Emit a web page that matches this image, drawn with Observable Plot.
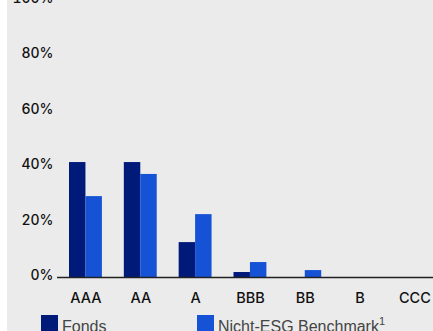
<!DOCTYPE html>
<html>
<head>
<meta charset="utf-8">
<script src="https://cdn.jsdelivr.net/npm/d3@7"></script>
<script src="https://cdn.jsdelivr.net/npm/@observablehq/plot@0.6"></script>
<style>
  html, body { margin: 0; padding: 0; background: #fff; overflow: hidden; }
  #wrap { position: absolute; left: 7px; top: 0; width: 426px; height: 331px; background: #ebebeb; overflow: hidden; }
  #chart svg { display: block; overflow: visible; }
  #legend { position: absolute; left: 0; top: 315px; width: 426px; height: 20px; font-family: "Liberation Sans", Arial, sans-serif; font-size: 16px; color: #444; }
  .item { position: absolute; top: 0; display: flex; align-items: flex-start; }
  .sw { width: 17px; height: 17px; margin-right: 4px; }
  .lbl { line-height: 17px; margin-top: 3px; white-space: nowrap; }
  sup { font-size: 11px; vertical-align: 7px; line-height: 0; }
</style>
</head>
<body>
<div id="wrap">
  <div id="chart"></div>
  <div id="legend"></div>
</div>
<script>
const categories = ["AAA", "AA", "A", "BBB", "BB", "B", "CCC"];
const fonds = [41.5, 41.5, 12.6, 1.8, 0, 0, 0];
const benchmark = [29.2, 37.2, 22.7, 5.4, 2.5, 0, 0];
const yTicks = [0, 20, 40, 60, 80, 100];
const seriesNames = ["Fonds", "Nicht-ESG Benchmark"];
const colors = ["#001a7a", "#1652d5"];

const fondsData = categories.map((c, i) => ({category: c, value: fonds[i]}));
const benchData = categories.map((c, i) => ({category: c, value: benchmark[i]}));

const W = 426, H = 312, mL = 50, mR = 0, mT = 0, mB = 35;
const pInner = 0.4, pOuter = 0.1287;
const step = (W - mL - mR) / (categories.length - pInner + 2 * pOuter);
const half = step * (1 - pInner) / 2;

const chart = Plot.plot({
  width: W,
  height: H,
  marginLeft: mL,
  marginRight: mR,
  marginTop: mT,
  marginBottom: mB,
  style: {background: "transparent", fontFamily: "Inter, sans-serif", fontSize: "14px", fontWeight: 500, color: "#111"},
  x: {domain: categories, paddingInner: pInner, paddingOuter: pOuter, align: 0.85, round: false, label: null},
  y: {domain: [0, 100], label: null},
  marks: [
    Plot.barY(fondsData, {x: "category", y: "value", fill: colors[0], insetRight: half, insetLeft: 0}),
    Plot.barY(benchData, {x: "category", y: "value", fill: colors[1], insetLeft: half, insetRight: 0}),
    Plot.ruleY([0], {stroke: "#222", strokeWidth: 1.5}),
    Plot.axisY({ticks: yTicks, tickSize: 0, tickPadding: 4, tickFormat: d => d + "%", dy: -2, label: null, fill: "#111"}),
    Plot.axisX({tickSize: 0, tickPadding: 15, label: null, fill: "#111", fontSize: 14.5, style: {letterSpacing: "0.04em"}})
  ]
});
document.getElementById("chart").appendChild(chart);

const legend = document.getElementById("legend");
const lx = [34, 190];
seriesNames.forEach((name, i) => {
  const item = document.createElement("div");
  item.className = "item";
  item.style.left = lx[i] + "px";
  const sw = document.createElement("div");
  sw.className = "sw";
  sw.style.background = colors[i];
  const lbl = document.createElement("div");
  lbl.className = "lbl";
  lbl.innerHTML = i === 1 ? name + "<sup>1</sup>" : name;
  item.appendChild(sw);
  item.appendChild(lbl);
  legend.appendChild(item);
});
</script>
</body>
</html>
